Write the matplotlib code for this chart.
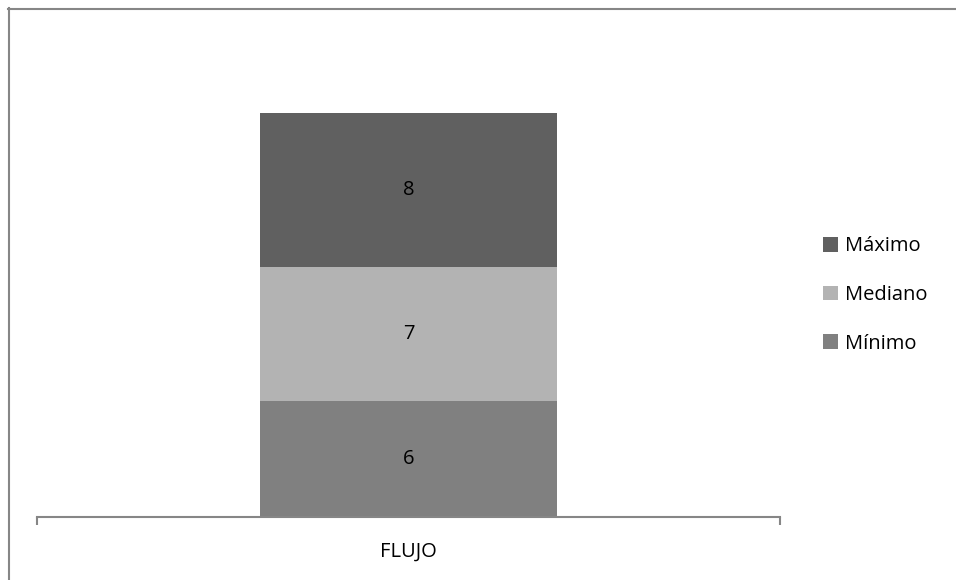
import matplotlib.pyplot as plt
from matplotlib.lines import Line2D
from matplotlib.patches import Patch

# Stacked values for the single category
categories = ["FLUJO"]
series = ["Mínimo", "Mediano", "Máximo"]
values = [6, 7, 8]
colors = ["#808080", "#b3b3b3", "#606060"]

plt.rcParams['font.family'] = ['Open Sans', 'DejaVu Sans']
FS = 14.5

W, H = 956, 580
fig = plt.figure(figsize=(W / 100, H / 100), dpi=100)
ax = fig.add_axes([37 / W, 1 - 516.5 / H, (780 - 37) / W, 480 / H])

bottom = 0
for name, val, col in zip(series, values, colors):
    ax.bar(0, val, width=0.40, bottom=bottom, color=col, label=name)
    ax.text(0, bottom + val / 2, str(val), ha="center", va="center",
            fontsize=FS, color="black")
    bottom += val

ax.set_xlim(-0.5, 0.5)
ax.set_ylim(0, 25)
for s in ["top", "right", "left"]:
    ax.spines[s].set_visible(False)
ax.spines["bottom"].set_color("#868686")
ax.spines["bottom"].set_linewidth(1.5)
ax.set_yticks([])
ax.set_xticks([0])
ax.set_xticklabels(categories, fontsize=FS)
ax.tick_params(axis="x", which="major", length=0, pad=18)
ax.set_xticks([-0.5, 0.5], minor=True)
ax.tick_params(axis="x", which="minor", length=6, width=1.5, color="#868686")

# legend, top entry first
handles = [Patch(facecolor=c, edgecolor="none") for c in colors][::-1]
fig.legend(handles, series[::-1], loc="center left",
           bbox_to_anchor=(805 / W, 1 - 295 / H), frameon=False,
           fontsize=FS, handlelength=0.75, handleheight=0.75,
           handletextpad=0.35, labelspacing=1.42)

# chart area border (left and top edges)
fig.add_artist(Line2D([8.5 / W, 8.5 / W], [0, 1 - 8 / H], color="#868686",
                      lw=1.5, transform=fig.transFigure))
fig.add_artist(Line2D([8 / W, 1], [1 - 8.5 / H, 1 - 8.5 / H], color="#868686",
                      lw=1.5, transform=fig.transFigure))

fig.savefig("out.png", dpi=100)
